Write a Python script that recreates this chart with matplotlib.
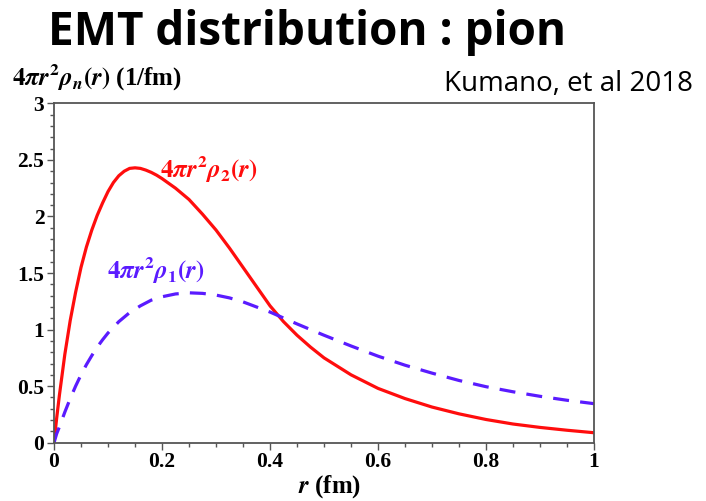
import numpy as np
import matplotlib
matplotlib.use("Agg")
import matplotlib.pyplot as plt
from matplotlib.ticker import MultipleLocator

plt.rcParams['mathtext.fontset'] = 'custom'
plt.rcParams['mathtext.rm'] = 'STIXGeneral:bold'
plt.rcParams['mathtext.it'] = 'STIXGeneral:italic:bold'
plt.rcParams['mathtext.bf'] = 'STIXGeneral:bold'

# values
r2 = [0, 0.005, 0.01, 0.02, 0.03, 0.04, 0.05, 0.06, 0.07, 0.08, 0.09, 0.1, 0.11, 0.12,
      0.13, 0.14, 0.15, 0.16, 0.17, 0.18, 0.19, 0.2, 0.225, 0.25, 0.275, 0.3, 0.325,
      0.35, 0.375, 0.4, 0.425, 0.45, 0.475, 0.5, 0.55, 0.6, 0.65, 0.7, 0.75, 0.8,
      0.85, 0.9, 0.95, 1.0]
rho2 = [0, 0.22, 0.42, 0.78, 1.08, 1.33, 1.55, 1.73, 1.88, 2.01, 2.12, 2.22, 2.3, 2.36,
        2.4, 2.425, 2.43, 2.425, 2.41, 2.39, 2.365, 2.335, 2.25, 2.15, 2.02, 1.88, 1.72,
        1.55, 1.38, 1.21, 1.07, 0.95, 0.845, 0.75, 0.6, 0.48, 0.39, 0.315, 0.255, 0.205,
        0.165, 0.135, 0.11, 0.088]

r1 = [0, 0.005, 0.01, 0.02, 0.03, 0.04, 0.05, 0.06, 0.07, 0.08, 0.09, 0.1, 0.12, 0.14,
      0.16, 0.18, 0.2, 0.225, 0.25, 0.275, 0.3, 0.325, 0.35, 0.375, 0.4, 0.45, 0.5,
      0.55, 0.6, 0.65, 0.7, 0.75, 0.8, 0.85, 0.9, 0.95, 1.0]
rho1 = [0, 0.08, 0.14, 0.27, 0.39, 0.5, 0.6, 0.69, 0.77, 0.845, 0.91, 0.97, 1.07, 1.15,
        1.21, 1.26, 1.29, 1.315, 1.325, 1.32, 1.305, 1.28, 1.245, 1.2, 1.155, 1.05, 0.95,
        0.855, 0.765, 0.685, 0.615, 0.55, 0.495, 0.45, 0.41, 0.375, 0.345]

red = "#ff0d0d"
blue = "#5a1bff"

fig = plt.figure(figsize=(7.06, 5.01), dpi=100)
ax = fig.add_axes([0.0765, 0.1164, 0.7649, 0.6773])

ax.plot(r2, rho2, color=red, lw=2.3)
ax.plot(r1, rho1, color=blue, lw=2.3, dashes=(5, 3.5))

ax.set_xlim(0, 1)
ax.set_ylim(0, 3)
ax.xaxis.set_major_locator(MultipleLocator(0.2))
ax.xaxis.set_minor_locator(MultipleLocator(0.05))
ax.yaxis.set_major_locator(MultipleLocator(0.5))
ax.yaxis.set_minor_locator(MultipleLocator(0.1))
ax.xaxis.set_major_formatter(plt.FuncFormatter(lambda v, p: "%g" % round(v, 2)))
ax.yaxis.set_major_formatter(plt.FuncFormatter(lambda v, p: "%g" % round(v, 2)))
ax.tick_params(which='major', direction='out', length=5, width=1, color='#555555',
               top=False, right=False, pad=2)
ax.tick_params(which='minor', direction='out', length=3, width=1, color='#555555',
               top=False, right=False)
for lab in ax.get_xticklabels() + ax.get_yticklabels():
    lab.set_family('Liberation Serif')
    lab.set_weight('bold')
    lab.set_fontsize(15.5)
for s in ax.spines.values():
    s.set_color('#555555')
    s.set_linewidth(1.3)

ax.text(0.196, 2.41, r"$4\pi r^2\rho_2(r)$", color=red, fontsize=18, va='center', ha='left')
ax.text(0.098, 1.52, r"$4\pi r^2\rho_1(r)$", color=blue, fontsize=18, va='center', ha='left')

fig.text(0.017, 0.845, r"$4\pi r^2\rho_n(r)$ (1/fm)", fontsize=18, va='center', ha='left',
         family='Liberation Serif', weight='bold')
fig.text(0.467, 0.028, r"$r$ (fm)", fontsize=18, va='center', ha='center',
         family='Liberation Serif', weight='bold')

fig.text(0.435, 0.935, "EMT distribution : pion", fontsize=33, weight='bold',
         family='Open Sans', ha='center', va='center')
fig.text(0.982, 0.832, "Kumano, et al 2018", fontsize=20, family='Open Sans',
         ha='right', va='center')

fig.savefig("out.png", dpi=100)
